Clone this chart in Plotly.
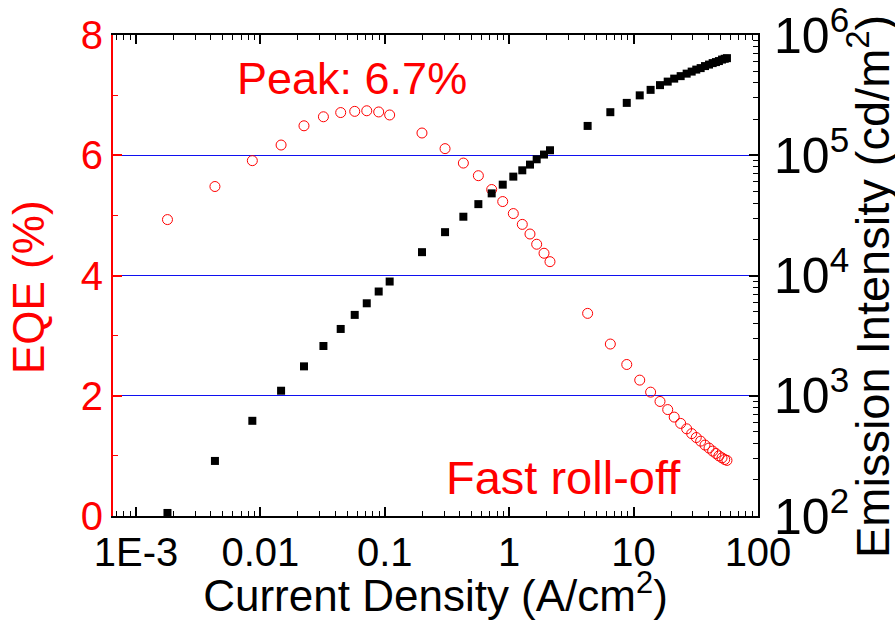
import plotly.graph_objects as go

# Current density (A/cm^2)
current_density = [0.00179, 0.00431, 0.00861, 0.01466, 0.0224, 0.0321, 0.0442, 0.0573, 0.0716, 0.0893,
                   0.1094, 0.199, 0.305, 0.428, 0.565, 0.723, 0.887, 1.079, 1.274, 1.469, 1.663, 1.905,
                   2.127, 4.27, 6.50, 8.81, 11.2, 13.7, 16.3, 18.8, 21.2, 23.9, 26.7, 29.3, 31.9, 34.6,
                   37.5, 40.4, 43.2, 45.9, 48.5, 51.4, 54.0, 56.3]
# EQE (%)
eqe = [4.93, 5.48, 5.91, 6.17, 6.49, 6.64, 6.71, 6.73, 6.74, 6.72,
       6.67, 6.37, 6.11, 5.87, 5.66, 5.43, 5.23, 5.03, 4.85, 4.69, 4.52, 4.37,
       4.23, 3.37, 2.86, 2.52, 2.26, 2.06, 1.905, 1.77, 1.645, 1.54, 1.45, 1.37, 1.305, 1.245,
       1.18, 1.13, 1.08, 1.04, 1.00, 0.967, 0.94, 0.925]
# Emission intensity (cd/m^2)
luminance = [106, 287, 619, 1101, 1756, 2594, 3594, 4704, 5875, 7362,
             8913, 15640, 22940, 30830, 39240, 48220, 56970, 66450, 74990, 83630, 92620, 101400,
             110100, 175400, 228200, 272700, 315000, 350000, 383200, 409900, 434000, 455200, 477500,
             496600, 515900, 530900, 551900, 567900, 584300, 595700, 607400, 625200, 634600, 642200]

x_tick_alias = {"0.001": "1E-3"}

FONT = "Liberation Sans, Arial, sans-serif"
GRID_BLUE = "#1010f0"

fig = go.Figure()
fig.add_trace(go.Scatter(
    x=current_density, y=eqe, mode="markers", name="EQE",
    marker=dict(symbol="circle-open", size=10, color="#ff0000", line=dict(width=1, color="#ff0000")),
    yaxis="y"))
fig.add_trace(go.Scatter(
    x=current_density, y=luminance, mode="markers", name="Emission Intensity",
    marker=dict(symbol="square", size=8, color="#000000"),
    yaxis="y2"))

fig.update_layout(
    width=895, height=620,
    margin=dict(l=113, r=137, t=35, b=104),
    paper_bgcolor="white", plot_bgcolor="white",
    showlegend=False,
    font=dict(family=FONT, size=40, color="black"),
    xaxis=dict(
        type="log", range=[-3.185, 2.0], dtick=1,
        labelalias=x_tick_alias,
        showline=True, linecolor="black", linewidth=2, mirror="ticks",
        ticks="inside", ticklen=9, tickwidth=1.5, tickcolor="black",
        minor=dict(ticks="inside", ticklen=5, tickwidth=1, tickcolor="black", dtick="D1", showgrid=False),
        showgrid=False, zeroline=False, ticklabeloverflow="allow",
        tickfont=dict(size=40, color="black"),
        title=dict(text="Current Density (A/cm<sup>2</sup>)", font=dict(size=44, color="black"), standoff=5),
        automargin=False,
    ),
    yaxis=dict(
        range=[0, 8], dtick=2,
        showline=True, linecolor="#ff0000", linewidth=2,
        ticks="inside", ticklen=9, tickwidth=1.5, tickcolor="#ff0000",
        minor=dict(ticks="inside", ticklen=5, tickwidth=1, tickcolor="#ff0000", dtick=1, showgrid=False),
        showgrid=True, gridcolor=GRID_BLUE, gridwidth=1, zeroline=False, ticklabeloverflow="allow",
        tickfont=dict(size=40, color="#ff0000"),
        automargin=False,
    ),
    yaxis2=dict(
        type="log", range=[2, 6.0003], dtick=1, exponentformat="power",
        overlaying="y", side="right",
        showline=True, linecolor="black", linewidth=2,
        ticks="inside", ticklen=9, tickwidth=1.5, tickcolor="black", ticklabelstandoff=6,
        minor=dict(ticks="inside", ticklen=5, tickwidth=1, tickcolor="black", dtick="D1", showgrid=False),
        showgrid=False, zeroline=False, ticklabeloverflow="allow",
        tickfont=dict(size=40, color="black"),
        automargin=False,
    ),
    annotations=[
        dict(text="EQE (%)", xref="paper", yref="paper", x=-0.1318, y=0.476,
             xanchor="center", yanchor="middle", textangle=-90, showarrow=False,
             font=dict(size=44, color="#ff0000", family=FONT)),
        dict(text="Emission Intensity (cd/m<sup>2</sup>)", xref="paper", yref="paper", x=1.172, y=0.478,
             xanchor="center", yanchor="middle", textangle=-90, showarrow=False,
             font=dict(size=47, color="black", family=FONT)),
        dict(text="Peak: 6.7%", xref="paper", yref="paper", x=0.371, y=0.909,
             xanchor="center", yanchor="middle", showarrow=False,
             font=dict(size=45, color="#ff0000", family=FONT)),
        dict(text="Fast roll-off", xref="paper", yref="paper", x=0.699, y=0.081,
             xanchor="center", yanchor="middle", showarrow=False,
             font=dict(size=47, color="#ff0000", family=FONT)),
    ],
)

fig.write_html("out.html")
